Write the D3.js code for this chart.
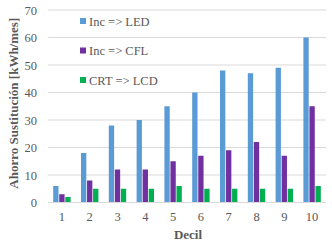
<!DOCTYPE html>
<html>
<head>
<meta charset="utf-8">
<script src="https://cdn.jsdelivr.net/npm/d3@7"></script>
<style>
  body { margin: 0; background: #fff; }
</style>
</head>
<body>
<svg id="chart"></svg>
<script>
const DECILES = ['1', '2', '3', '4', '5', '6', '7', '8', '9', '10'];
const SERIES = ['Inc => LED', 'Inc => CFL', 'CRT => LCD'];
const LED = [6, 18, 28, 30, 35, 40, 48, 47, 49, 60];
const CFL = [3, 8, 12, 12, 15, 17, 19, 22, 17, 35];
const LCD = [2, 5, 5, 5, 6, 5, 5, 5, 5, 6];
const Y_TICKS = [0, 10, 20, 30, 40, 50, 60, 70];
const COLORS = ['#5b9bd5', '#7030a0', '#00b050'];
const FONT = "'Liberation Serif'";

const WIDTH = 332, HEIGHT = 246;
const MARGINS = {top: 10, right: 6, bottom: 43.5, left: 48};

const svg = d3.select('#chart')
    .attr('width', WIDTH)
    .attr('height', HEIGHT);

// build rows from the arrays
const values = [LED, CFL, LCD];
const rows = DECILES.map((d, i) => ({decil: d, vals: values.map(v => v[i])}));

/* scales */
const x = d3.scaleBand().domain(DECILES)
    .range([MARGINS.left, WIDTH - MARGINS.right]).paddingInner(0).paddingOuter(0);
const inner = d3.scaleBand().domain(SERIES)
    .range([5.2, x.bandwidth() - 5.2]).paddingInner(0.12);
const y = d3.scaleLinear().domain([0, 70]).range([HEIGHT - MARGINS.bottom, MARGINS.top]);

/* gridlines */
svg.append('g').selectAll('line').data(Y_TICKS.filter(t => t > 0)).enter()
    .append('line')
    .attr('x1', MARGINS.left).attr('x2', WIDTH - MARGINS.right)
    .attr('y1', d => y(d)).attr('y2', d => y(d))
    .attr('stroke', '#d9d9d9').attr('stroke-width', 1);

/* bars */
const groups = svg.append('g').selectAll('g').data(rows).enter()
    .append('g')
    .attr('transform', d => `translate(${x(d.decil)},0)`);
groups.selectAll('rect').data(d => d.vals.map((v, i) => ({s: SERIES[i], v, i}))).enter()
    .append('rect')
    .attr('x', d => inner(d.s))
    .attr('width', inner.bandwidth())
    .attr('y', d => y(d.v))
    .attr('height', d => y(0) - y(d.v))
    .attr('fill', d => COLORS[d.i]);

/* baseline */
svg.append('line')
    .attr('x1', MARGINS.left).attr('x2', WIDTH - MARGINS.right)
    .attr('y1', y(0)).attr('y2', y(0))
    .attr('stroke', '#d9d9d9');

/* axes */
const xAxis = svg.append('g')
    .attr('transform', `translate(0,${y(0)})`)
    .call(d3.axisBottom(x).tickSize(0).tickPadding(10))
    .attr('font-family', FONT).attr('font-size', 12.5);
xAxis.select('.domain').remove();
xAxis.selectAll('text').attr('fill', '#595959');

const yAxis = svg.append('g')
    .attr('transform', `translate(${MARGINS.left - 11},0)`)
    .call(d3.axisLeft(y).tickValues(Y_TICKS).tickSize(0).tickPadding(0))
    .attr('font-family', FONT).attr('font-size', 12.5);
yAxis.select('.domain').remove();
yAxis.selectAll('text').attr('fill', '#595959');

/* axis titles */
svg.append('text')
    .attr('transform', `translate(18,${(y(0) + y(70)) / 2 - 3}) rotate(-90)`)
    .attr('text-anchor', 'middle')
    .attr('font-family', FONT)
    .attr('font-size', 13).attr('font-weight', 'bold').attr('fill', '#595959')
    .text('Ahorro Sustitución [kWh/mes]');

svg.append('text')
    .attr('x', 188).attr('y', 239)
    .attr('text-anchor', 'middle')
    .attr('font-family', FONT)
    .attr('font-size', 13).attr('font-weight', 'bold').attr('fill', '#595959')
    .text('Decil');

/* legend */
const legend = svg.append('g').selectAll('g').data(SERIES).enter()
    .append('g')
    .attr('transform', (d, i) => `translate(80,${21 + i * 29.5})`);
legend.append('rect')
    .attr('x', 0).attr('y', -3).attr('width', 6).attr('height', 6)
    .attr('fill', (d, i) => COLORS[i]);
legend.append('text')
    .attr('x', 9).attr('y', 4.5)
    .attr('font-family', FONT)
    .attr('font-size', 12.5).attr('fill', '#595959')
    .text(d => d);
</script>
</body>
</html>
